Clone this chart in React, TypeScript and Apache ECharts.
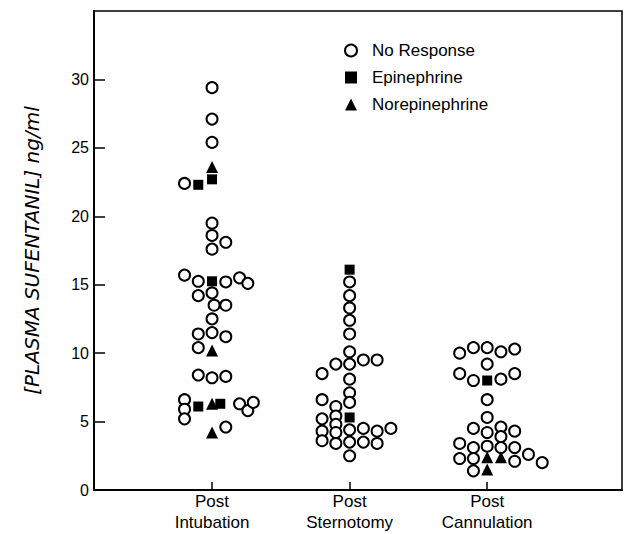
import React, { useEffect, useRef } from "react";
import * as echarts from "echarts";

// Categories (x positions 1, 2, 3)
const categories = ["Post\nIntubation", "Post\nSternotomy", "Post\nCannulation"];
const yTicks = [0, 5, 10, 15, 20, 25, 30];

// Each point: [column slot offset, plasma sufentanil ng/ml]
const intubationNone: [number, number][] = [
  [0, 29.4], [0, 27.1], [0, 25.4], [-2, 22.4],
  [0, 19.5], [0, 18.6], [1, 18.1], [0, 17.6],
  [-2, 15.7], [-1, 15.25], [1, 15.2], [2, 15.5], [2.6, 15.1],
  [-1, 14.2], [0, 14.4], [0.15, 13.5], [1, 13.5], [0, 12.5],
  [-1, 11.4], [0, 11.5], [1, 11.2], [-1, 10.4],
  [-1, 8.4], [0, 8.2], [1, 8.3],
  [-2, 6.6], [-2, 5.9], [-2, 5.2],
  [2, 6.3], [2.6, 5.8], [3, 6.4], [1, 4.6],
];
const intubationEpi: [number, number][] = [
  [-1, 22.3], [0, 22.7], [0, 15.25], [-1, 6.1], [0.6, 6.3],
];
const intubationNorepi: [number, number][] = [
  [0, 23.6], [0, 10.2], [0, 6.3], [0, 4.2],
];

const sternotomyNone: [number, number][] = [
  [0, 15.2], [0, 14.2], [0, 13.3], [0, 12.4], [0, 11.4], [0, 10.1],
  [-1, 9.2], [0, 9.2], [1, 9.5], [2, 9.5], [-2, 8.5], [0, 8.1],
  [0, 7.1], [0, 6.4], [-2, 6.6], [-1, 6.1], [-2, 5.2], [-1, 5.4],
  [-1, 4.8], [-2, 4.3], [-1, 4.2], [0, 4.4], [1, 4.5], [2, 4.3], [3, 4.5],
  [-2, 3.6], [-1, 3.4], [0, 3.5], [1, 3.5], [2, 3.4], [0, 2.5],
];
const sternotomyEpi: [number, number][] = [[0, 16.1], [0, 5.3]];
const sternotomyNorepi: [number, number][] = [];

const cannulationNone: [number, number][] = [
  [-2, 10.0], [-1, 10.4], [0, 10.4], [1, 10.1], [2, 10.3], [0, 9.2],
  [-2, 8.5], [-1, 8.0], [1, 8.1], [2, 8.5], [0, 6.6], [0, 5.3],
  [-1, 4.5], [0, 4.2], [1, 4.6], [1, 3.9], [2, 4.3],
  [-2, 3.4], [-1, 3.1], [0, 3.2], [1, 3.1], [2, 3.1],
  [-2, 2.3], [-1, 2.3], [2, 2.1], [3, 2.6], [4, 2.0], [-1, 1.4],
];
const cannulationEpi: [number, number][] = [[0, 8.0]];
const cannulationNorepi: [number, number][] = [[0, 2.4], [1, 2.4], [0, 1.5]];

const SLOT = 0.1;
const place = (groups: [number, number][][]) =>
  groups.flatMap((g, ci) => g.map(([s, v]) => [ci + 1 + s * SLOT, v]));

const FONT = "Liberation Sans";

export default function App() {
  const ref = useRef<HTMLDivElement>(null);
  useEffect(() => {
    if (!ref.current) return;
    const chart = echarts.init(ref.current, null, { renderer: "svg" });
    chart.setOption({
      animation: false,
      backgroundColor: "#fff",
      grid: {
        left: 94, right: 3, top: 11, bottom: 44,
        show: true, borderColor: "#000", borderWidth: 1.5,
      },
      legend: {
        orient: "vertical",
        left: 339,
        top: 37,
        itemWidth: 12,
        itemHeight: 12,
        itemGap: 10,
        textStyle: { fontFamily: FONT, fontSize: 17, color: "#000", padding: [0, 0, 0, 10] },
      },
      xAxis: {
        type: "value",
        min: 0.142,
        max: 3.98,
        splitLine: { show: false },
        axisLine: { show: true, lineStyle: { color: "#000", width: 2 } },
        axisTick: {
          show: true, inside: true, length: 8,
          customValues: [1, 2, 3],
          lineStyle: { color: "#000", width: 1.5 },
        },
        axisLabel: {
          customValues: [1, 2, 3],
          formatter: (v: number) => categories[Math.round(v) - 1] ?? "",
          fontFamily: FONT, fontSize: 17, color: "#000", lineHeight: 21, margin: 1,
        },
      },
      yAxis: {
        type: "value",
        min: 0,
        max: 35,
        interval: 5,
        name: "[PLASMA SUFENTANIL] ng/ml",
        nameLocation: "middle",
        nameGap: 52,
        nameTextStyle: { fontFamily: "DejaVu Sans", fontSize: 20, fontStyle: "italic", color: "#000" },
        splitLine: { show: false },
        axisLine: { show: true, lineStyle: { color: "#000", width: 2 } },
        axisTick: {
          show: true, inside: true, length: 11,
          customValues: yTicks,
          lineStyle: { color: "#000", width: 1.5 },
        },
        axisLabel: {
          customValues: yTicks,
          fontFamily: FONT, fontSize: 16, color: "#000", margin: 5,
        },
      },
      series: [
        {
          name: "No Response",
          type: "scatter",
          symbol: "circle",
          symbolSize: 11,
          itemStyle: { color: "#fff", borderColor: "#000", borderWidth: 2, opacity: 1 },
          data: place([intubationNone, sternotomyNone, cannulationNone]),
        },
        {
          name: "Epinephrine",
          type: "scatter",
          symbol: "rect",
          symbolSize: 10,
          itemStyle: { color: "#000", opacity: 1 },
          data: place([intubationEpi, sternotomyEpi, cannulationEpi]),
        },
        {
          name: "Norepinephrine",
          type: "scatter",
          symbol: "triangle",
          symbolSize: 12,
          itemStyle: { color: "#000", opacity: 1 },
          data: place([intubationNorepi, sternotomyNorepi, cannulationNorepi]),
        },
      ],
    });
    return () => chart.dispose();
  }, []);
  return (
    <div
      ref={ref}
      style={{ position: "absolute", left: 0, top: 0, width: 625, height: 534 }}
    />
  );
}
